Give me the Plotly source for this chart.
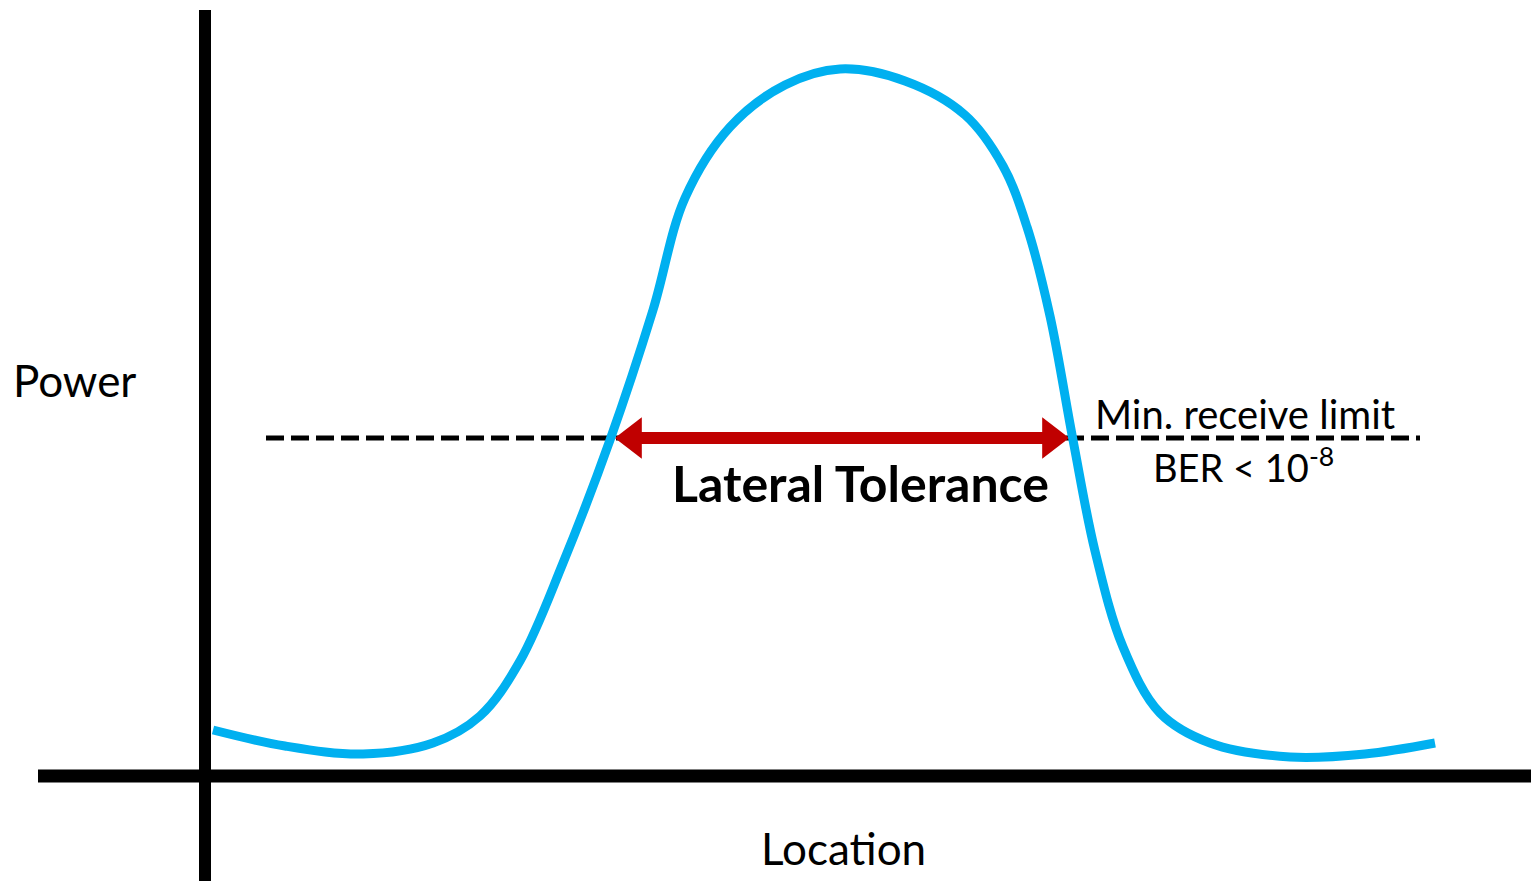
import plotly.graph_objects as go

# received power vs. lateral location (arbitrary units)
location = [0.8, 8.0, 15.8, 22.8, 27.5, 31.5, 35.8, 40.5, 44.8, 48.0, 52.5,
            58.0, 63.5, 70.0, 76.0, 79.8, 82.2, 84.5, 86.8, 89.0, 91.8, 95.5,
            100.5, 108.5, 116.0, 123.0]
power = [4.6, 3.0, 2.2, 3.3, 6.0, 11.5, 21.3, 33.6, 46.6, 57.8, 64.9,
         69.1, 70.7, 69.5, 66.1, 61.0, 54.9, 46.0, 33.6, 22.5, 12.9, 6.3,
         3.3, 1.9, 2.2, 3.3]

min_receive_level = 33.8
limit_span = [6.1, 121.5]
tolerance_bounds = [40.7, 86.7]

AXIS_X_SPAN = [-16.7, 133.4]
AXIS_Y_SPAN = [-10.5, 76.6]

CYAN = '#00B0F0'
DARK_RED = '#C00000'
FONT = 'Lato'

fig = go.Figure()

# minimum receive limit (dashed)
fig.add_trace(go.Scatter(
    x=limit_span, y=[min_receive_level] * 2,
    mode='lines',
    line=dict(color='black', width=5, dash='18px,7px'),
    hoverinfo='skip'
))

# lateral tolerance arrow: shaft + two heads
head_offset = 2.08
fig.add_trace(go.Scatter(
    x=[tolerance_bounds[0] + 2.5, tolerance_bounds[1] - 2.5],
    y=[min_receive_level] * 2,
    mode='lines',
    line=dict(color=DARK_RED, width=12),
    hoverinfo='skip'
))
fig.add_trace(go.Scatter(
    x=[tolerance_bounds[0] + head_offset, tolerance_bounds[1] - head_offset],
    y=[min_receive_level] * 2,
    mode='markers',
    marker=dict(symbol=['triangle-left', 'triangle-right'], size=36,
                color=DARK_RED, line=dict(width=0)),
    hoverinfo='skip'
))

fig.add_trace(go.Scatter(
    x=location, y=power,
    mode='lines',
    line=dict(color=CYAN, width=9, shape='spline', smoothing=1.0),
    name='Power'
))

# axes drawn as thick lines through the origin
fig.add_shape(type='line', x0=0, x1=0, y0=AXIS_Y_SPAN[0], y1=AXIS_Y_SPAN[1],
              line=dict(color='black', width=12))
fig.add_shape(type='line', x0=AXIS_X_SPAN[0], x1=AXIS_X_SPAN[1], y0=0, y1=0,
              line=dict(color='black', width=13))

fig.add_annotation(x=-13.05, y=39.6, text='Power', showarrow=False,
                   font=dict(family=FONT, size=44, color='black'))
fig.add_annotation(x=63.8, y=-7.2, text='Location', showarrow=False,
                   font=dict(family=FONT, size=44, color='black'))
fig.add_annotation(x=65.5, y=29.3, text='<b>Lateral Tolerance</b>', showarrow=False,
                   font=dict(family=FONT, size=50, color='black'))
fig.add_annotation(x=104.0, y=36.2, text='Min. receive limit', showarrow=False,
                   font=dict(family=FONT, size=40, color='black'))
fig.add_annotation(x=103.8, y=31.1, text='BER < 10<sup>-8</sup>', showarrow=False,
                   font=dict(family=FONT, size=38, color='black'))

# page body has an 8px margin, so the figure is sized/ranged to land on the same pixels
fig.update_layout(
    width=1531, height=873,
    margin=dict(l=0, r=0, t=0, b=0),
    paper_bgcolor='white', plot_bgcolor='white',
    showlegend=False,
    xaxis=dict(range=[-19.7, 133.4], visible=False, fixedrange=True),
    yaxis=dict(range=[-10.5, 76.8], visible=False, fixedrange=True),
)

fig.write_html('out.html')
